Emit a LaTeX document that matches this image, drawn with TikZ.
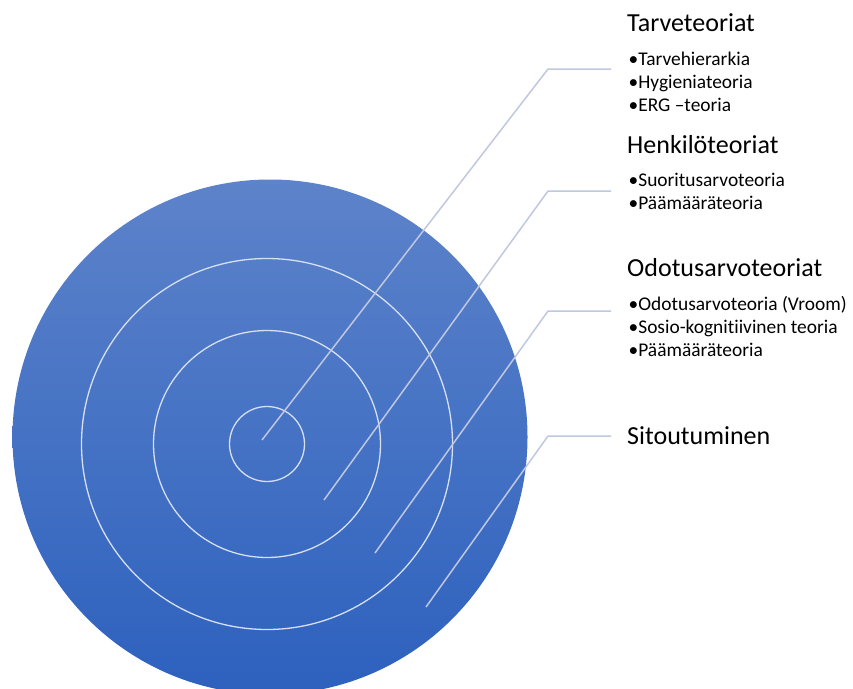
\documentclass[tikz,border=0pt]{standalone}
\usepackage{fontspec}
\setmainfont{Carlito}[Ligatures=NoCommon]
\usetikzlibrary{positioning}

\definecolor{disctop}{RGB}{93,131,202}
\definecolor{discbottom}{RGB}{45,97,190}
\definecolor{leader}{RGB}{192,199,224}
\definecolor{ringline}{RGB}{214,224,242}

\tikzset{
  head/.style={anchor=base west, inner sep=0pt, font=\fontsize{26}{31}\selectfont},
  item/.style={anchor=base west, inner sep=0pt, font=\fontsize{19.4}{23}\selectfont},
  ring/.style={circle, draw=ringline, line width=1.3pt, inner sep=0pt},
  leaderline/.style={draw=leader, line width=1.5pt}
}

\begin{document}
\begin{tikzpicture}[x=1pt, y=-1pt]

    % Frame
    \useasboundingbox (0,0) rectangle (853,688);
    \clip (0,0) rectangle (853,688);

    % Disc and rings
    \shade[top color=disctop, bottom color=discbottom] (270,437) circle [radius=257.5pt];
    \node (ring1) [ring, minimum size=75pt] at (267,444) {};
    \node (ring2) [ring, minimum size=227pt] at (267,444) {};
    \node (ring3) [ring, minimum size=371pt] at (267,444) {};

    % Texts
    \node (tarve) [head] at (627,31.7) {Tarveteoriat};
    \node (tarve1) [item] at ([xshift=1.5pt, yshift=-33.3pt]tarve.base west) {•Tarvehierarkia};
    \node (tarve2) [item] at ([yshift=-23.4pt]tarve1.base west) {•Hygieniateoria};
    \node (tarve3) [item] at ([yshift=-23.4pt]tarve2.base west) {•ERG –teoria};

    \node (henk) [head] at (627,153) {Henkilöteoriat};
    \node (henk1) [item] at ([xshift=1.5pt, yshift=-33.3pt]henk.base west) {•Suoritusarvoteoria};
    \node (henk2) [item] at ([yshift=-23.4pt]henk1.base west) {•Päämääräteoria};

    \node (odot) [head] at (627,276.7) {Odotusarvoteoriat};
    \node (odot1) [item] at ([xshift=1.5pt, yshift=-33.3pt]odot.base west) {•Odotusarvoteoria (Vroom)};
    \node (odot2) [item] at ([yshift=-23.4pt]odot1.base west) {•Sosio-kognitiivinen teoria};
    \node (odot3) [item] at ([yshift=-23.4pt]odot2.base west) {•Päämääräteoria};

    \node (sitou) [head] at (627,444) {Sitoutuminen};

    % Leader lines
    \coordinate (p1) at (262,440);
    \coordinate (p2) at (324,500);
    \coordinate (p3) at (375,553);
    \coordinate (p4) at (426,607);
    \coordinate (k1) at (548,69);
    \coordinate (k2) at (548,191);
    \coordinate (k3) at (548,311);
    \coordinate (k4) at (548,436);

    \draw[leaderline] (p1) -- (k1) -- ([xshift=-16pt]k1 -| tarve.west);
    \draw[leaderline] (p2) -- (k2) -- ([xshift=-16pt]k2 -| henk.west);
    \draw[leaderline] (p3) -- (k3) -- ([xshift=-16pt]k3 -| odot.west);
    \draw[leaderline] (p4) -- (k4) -- ([xshift=-16pt]k4 -| sitou.west);

\end{tikzpicture}
\end{document}
